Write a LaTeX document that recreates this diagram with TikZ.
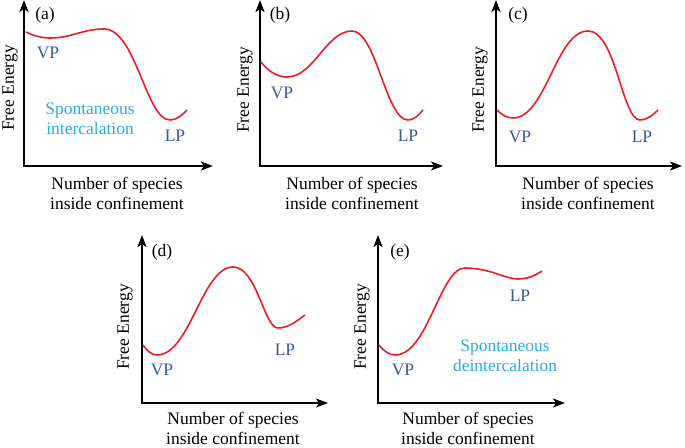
\documentclass[tikz,border=0pt]{standalone}
\usepackage{fontspec}
\setmainfont{Liberation Serif}
\usetikzlibrary{arrows.meta}
\definecolor{curvered}{RGB}{237,28,36}
\definecolor{lblblue}{RGB}{58,83,164}
\definecolor{spontblue}{RGB}{41,171,226}
\begin{document}
\begin{tikzpicture}[x=1pt,y=-1pt,
  axis/.style={line width=2pt,line join=miter,{Stealth[length=12pt,width=9pt,inset=3pt]}-{Stealth[length=12pt,width=9pt,inset=3pt]}},
  curve/.style={curvered,line width=1.6pt},
  txt/.style={font=\fontsize{17.5}{20}\selectfont,inner sep=0pt},
  state/.style={txt,text=lblblue},
  spont/.style={txt,text=spontblue,align=center},
  xlab/.style={txt,align=center},
  ylab/.style={txt,rotate=90},
  plabel/.style={txt}]
\useasboundingbox (0,0) rectangle (685,447);

% ---------- (a) ----------
\draw[axis] (24,0) |- (213,166);
\node[plabel] (la) at (45,15) {(a)};
\node[ylab] (ya) at (10,88) {Free Energy};
\node[xlab] (xa) at (117,193) {Number of species\\inside confinement};
\draw[curve] (26,32) .. controls (34,36) and (42,38) .. (50,38)
  .. controls (72,38) and (82,29) .. (104,29)
  .. controls (136,29) and (146,120) .. (170,120)
  .. controls (177,120) and (182,115) .. (187,110);
\node[state] (vpa) at (48,53) {VP};
\node[state] (lpa) at (175,136) {LP};
\node[spont] (sa) at (90,119) {Spontaneous\\intercalation};

% ---------- (b) ----------
\draw[axis] (260,0) |- (443,166);
\node[plabel] (lb) at (280,15) {(b)};
\node[ylab] (yb) at (245,90) {Free Energy};
\node[xlab] (xb) at (352,193) {Number of species\\inside confinement};
\draw[curve] (261,62) .. controls (268,71) and (277,77) .. (287,77)
  .. controls (314,77) and (326,31) .. (352,31)
  .. controls (376,31) and (386,120) .. (408,120)
  .. controls (414,120) and (419,115) .. (423,110);
\node[state] (vpb) at (282,93) {VP};
\node[state] (lpb) at (408,136) {LP};

% ---------- (c) ----------
\draw[axis] (496,0) |- (682,166);
\node[plabel] (lc) at (518,15) {(c)};
\node[ylab] (yc) at (480,90) {Free Energy};
\node[xlab] (xc) at (588,193) {Number of species\\inside confinement};
\draw[curve] (497,110) .. controls (502,115) and (507,118) .. (513,118)
  .. controls (546,118) and (556,31) .. (588,31)
  .. controls (616,31) and (622,120) .. (640,120)
  .. controls (647,120) and (653,115) .. (658,110);
\node[state] (vpc) at (520,137) {VP};
\node[state] (lpc) at (642,137) {LP};

% ---------- (d) ----------
\draw[axis] (142,235) |- (328,403);
\node[plabel] (ld) at (162,252) {(d)};
\node[ylab] (yd) at (125,327) {Free Energy};
\node[xlab] (xd) at (233,428) {Number of species\\inside confinement};
\draw[curve] (143,345) .. controls (147,351) and (152,355) .. (157,355)
  .. controls (190,355) and (202,267) .. (233,267)
  .. controls (257,267) and (264,328) .. (278,328)
  .. controls (289,328) and (298,320) .. (305,315);
\node[state] (vpd) at (162,370) {VP};
\node[state] (lpd) at (285,350) {LP};

% ---------- (e) ----------
\draw[axis] (378,235) |- (565,403);
\node[plabel] (le) at (400,252) {(e)};
\node[ylab] (ye) at (362,327) {Free Energy};
\node[xlab] (xe) at (468,428) {Number of species\\inside confinement};
\draw[curve] (379,345) .. controls (384,351) and (389,355) .. (395,355)
  .. controls (428,355) and (440,268) .. (465,268)
  .. controls (490,268) and (505,279) .. (518,279)
  .. controls (528,279) and (536,275) .. (542,271);
\node[state] (vpe) at (403,370) {VP};
\node[state] (lpe) at (520,296) {LP};
\node[spont] (se) at (505,356) {Spontaneous\\deintercalation};
\end{tikzpicture}
\end{document}
